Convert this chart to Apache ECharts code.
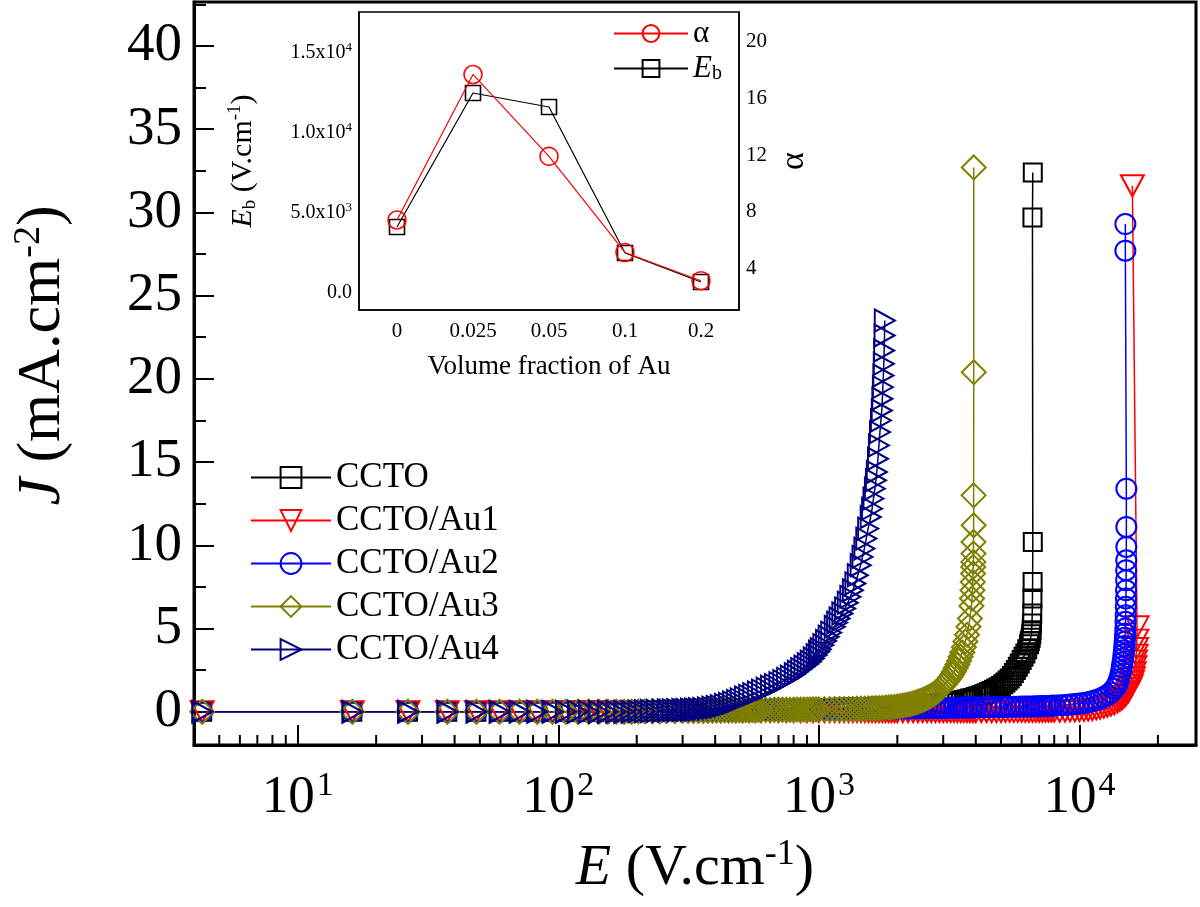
<!DOCTYPE html>
<html><head><meta charset="utf-8">
<script src="https://cdn.jsdelivr.net/npm/echarts@6/dist/echarts.min.js"></script>
<style>html,body{margin:0;padding:0;background:#fff;}#c{width:1200px;height:907px;}</style>
</head><body><div id="c"></div>
<script>
// ---------- DATA ----------
const seriesNames = ['CCTO', 'CCTO/Au1', 'CCTO/Au2', 'CCTO/Au3', 'CCTO/Au4'];
// low-field points shared by all samples (J ~ 0)
const eLow = [4.3, 16.2, 26.5, 37.5, 48.5, 59.5, 71, 83, 95, 107, 119, 131, 143, 155, 167, 179, 191];
const jLow = [0, 0, 0, 0, 0, 0, 0, 0, 0, 0, 0, 0, 0, 0, 0, 0, 0];
const cctoPts = [[203,0.02],[215,0.02],[230,0.03],[245,0.03],[260,0.04],[280,0.05],
[300,0.06],[315,0.06],[330,0.06],[345,0.07],[360,0.07],[375,0.07],[390,0.08],[405,0.08],[420,0.08],[435,0.09],[450,0.09],[465,0.1],[480,0.1],[495,0.1],[510,0.11],[525,0.11],[540,0.11],[555,0.12],[570,0.12],[585,0.13],
[600,0.14],[625,0.14],[650,0.14],[675,0.15],[700,0.15],[725,0.16],[750,0.16],[775,0.17],[800,0.17],[825,0.18],[850,0.18],[875,0.19],[900,0.19],[925,0.2],[950,0.2],[975,0.21],
[1000,0.22],[1050,0.22],[1100,0.23],[1150,0.23],[1200,0.24],[1250,0.24],[1300,0.25],[1350,0.25],[1400,0.26],[1450,0.26],[1500,0.27],[1550,0.27],[1600,0.28],[1650,0.29],[1700,0.3],[1750,0.31],[1800,0.32],[1850,0.32],[1900,0.33],[1950,0.34],
[2000,0.35],[2100,0.36],[2200,0.37],[2300,0.39],[2400,0.4],[2500,0.42],[2600,0.44],[2700,0.46],[2800,0.48],[2900,0.5],[3000,0.52],[3100,0.55],[3200,0.57],[3300,0.6],[3400,0.63],[3500,0.67],[3600,0.71],[3700,0.75],[3800,0.79],[3900,0.83],
[4000,0.88],[4100,0.93],[4200,0.99],[4300,1.05],[4400,1.11],[4500,1.18],[4600,1.25],[4700,1.32],[4800,1.4],[4900,1.47],[5000,1.55],[5100,1.65],[5200,1.76],[5300,1.88],[5400,2.0],[5500,2.15],[5600,2.32],[5700,2.5],[5800,2.7],[5900,2.9],[6000,3.1],[6100,3.3],[6200,3.5],[6300,3.75],[6400,4.05],
[6450,4.25],[6500,4.45],[6530,4.65],[6550,4.9],[6570,5.3],[6590,5.9],[6600,6.8],[6610,7.8],[6620,10.2],[6600,29.7],[6620,32.4]];
const au1Pts = [[203,0],[230,0],[260,0],[300,0],[330,0],[360,0],[390,0],[420,0.01],[450,0.01],[480,0.01],[510,0.01],[540,0.01],[570,0.01],
[600,0.01],[650,0.01],[700,0.01],[750,0.01],[800,0.01],[850,0.01],[900,0.01],[950,0.01],
[1000,0.01],[1050,0.01],[1100,0.01],[1150,0.01],[1200,0.01],[1250,0.01],[1300,0.01],[1350,0.01],[1400,0.01],[1450,0.01],[1500,0.01],[1550,0.01],[1600,0.01],[1650,0.01],[1700,0.01],[1750,0.01],[1800,0.01],[1850,0.01],[1900,0.01],[1950,0.01],
[2000,0.01],[2100,0.01],[2200,0.01],[2300,0.01],[2400,0.01],[2500,0.01],[2600,0.01],[2700,0.01],[2800,0.01],[2900,0.01],[3000,0.01],[3100,0.01],[3200,0.01],[3300,0.01],[3400,0.01],[3500,0.01],[3600,0.01],[3700,0.01],[3800,0.01],[3900,0.01],
[4000,0.01],[4200,0.01],[4400,0.01],[4600,0.01],[4800,0.01],[5000,0.01],[5200,0.02],[5400,0.02],[5600,0.02],[5800,0.02],[6000,0.02],[6200,0.02],[6400,0.02],[6600,0.02],[6800,0.02],[7000,0.02],[7200,0.02],[7400,0.03],[7600,0.03],[7800,0.03],
[8000,0.03],[8400,0.03],[8800,0.04],[9200,0.05],[9600,0.05],[10000,0.07],[10400,0.08],[10800,0.1],[11200,0.13],[11600,0.17],[12000,0.21],[12400,0.27],[12800,0.33],[13200,0.39],[13600,0.47],[14000,0.59],[14300,0.68],[14600,0.79],[14900,0.92],[15150,1.05],[15400,1.2],[15600,1.38],[15800,1.58],[15950,1.8],[16100,2.05],[16220,2.35],[16330,2.7],[16420,3.05],[16500,3.4],[16560,3.8],[16600,4.3],[16630,5.1],[15960,31.6]];
const au2Pts = [[203,0.02],[215,0.02],[230,0.03],[245,0.03],[260,0.04],[280,0.04],
[300,0.05],[315,0.05],[330,0.05],[345,0.06],[360,0.06],[375,0.06],[390,0.06],[405,0.07],[420,0.07],[435,0.07],[450,0.07],[465,0.08],[480,0.08],[495,0.08],[510,0.08],[525,0.09],[540,0.09],[555,0.09],[570,0.09],[585,0.1],
[600,0.1],[625,0.1],[650,0.1],[675,0.11],[700,0.11],[725,0.11],[750,0.11],[775,0.12],[800,0.12],[825,0.12],[850,0.12],[875,0.13],[900,0.13],[925,0.13],[950,0.13],[975,0.14],
[1000,0.14],[1050,0.14],[1100,0.14],[1150,0.15],[1200,0.15],[1250,0.15],[1300,0.15],[1350,0.16],[1400,0.16],[1450,0.16],[1500,0.16],[1550,0.17],[1600,0.17],[1650,0.17],[1700,0.17],[1750,0.18],[1800,0.18],[1850,0.18],[1900,0.19],[1950,0.19],
[2000,0.2],[2100,0.2],[2200,0.2],[2300,0.21],[2400,0.21],[2500,0.21],[2600,0.22],[2700,0.22],[2800,0.22],[2900,0.23],[3000,0.23],[3100,0.23],[3200,0.24],[3300,0.24],[3400,0.24],[3500,0.25],[3600,0.25],[3700,0.25],[3800,0.26],[3900,0.26],
[4000,0.27],[4200,0.27],[4400,0.28],[4600,0.28],[4800,0.28],[5000,0.29],[5200,0.29],[5400,0.3],[5600,0.3],[5800,0.3],[6000,0.31],[6200,0.31],[6400,0.32],[6600,0.32],[6800,0.33],[7000,0.33],[7200,0.34],[7400,0.35],[7600,0.35],[7800,0.36],
[8000,0.38],[8400,0.39],[8800,0.41],[9200,0.44],[9600,0.47],[10000,0.5],[10400,0.53],[10800,0.57],[11200,0.63],[11600,0.7],[12000,0.78],[12400,0.88],[12800,1.0],[13200,1.16],[13600,1.38],
[13850,1.55],[14050,1.75],[14200,1.95],[14350,2.2],[14450,2.45],[14550,2.7],[14620,2.95],[14700,3.2],[14760,3.45],[14820,3.7],[14870,3.95],[14910,4.2],[14950,4.45],[14980,4.7],[15000,5.0],[15020,5.4],[15040,5.8],[15060,6.3],[15080,6.8],[15090,7.3],[15100,7.9],[15110,8.5],[15120,9.1],[15130,9.9],[15130,11.1],[15130,13.4],[15000,27.7],[15000,29.3]];
const au3Pts = [[203,0.02],[215,0.02],[230,0.03],[245,0.03],[260,0.04],[280,0.04],
[300,0.05],[315,0.05],[330,0.05],[345,0.06],[360,0.06],[375,0.06],[390,0.07],[405,0.07],[420,0.07],[435,0.08],[450,0.08],[465,0.08],[480,0.09],[495,0.09],[510,0.09],[525,0.1],[540,0.1],[555,0.1],[570,0.1],[585,0.11],
[600,0.11],[625,0.11],[650,0.11],[675,0.12],[700,0.12],[725,0.12],[750,0.12],[775,0.12],[800,0.13],[825,0.13],[850,0.13],[875,0.13],[900,0.13],[925,0.14],[950,0.14],[975,0.14],
[1000,0.14],[1050,0.15],[1100,0.15],[1150,0.15],[1200,0.16],[1250,0.16],[1300,0.16],[1350,0.17],[1400,0.18],[1450,0.18],[1500,0.19],[1550,0.2],[1600,0.2],[1650,0.21],[1700,0.22],[1750,0.23],[1800,0.25],[1850,0.26],[1900,0.27],[1950,0.29],
[2000,0.32],[2050,0.34],[2100,0.37],[2150,0.4],[2200,0.43],[2250,0.46],[2300,0.5],[2350,0.55],[2400,0.6],[2450,0.65],[2500,0.7],[2550,0.76],[2600,0.83],[2650,0.89],[2700,0.97],[2750,1.05],[2800,1.14],[2850,1.23],[2900,1.33],[2950,1.44],
[3000,1.55],[3050,1.67],[3100,1.8],[3150,1.94],[3200,2.08],[3250,2.24],[3300,2.42],[3350,2.62],[3400,2.82],[3450,3.05],[3500,3.3],[3550,3.57],[3600,3.87],[3650,4.22],[3700,4.62],[3750,5.1],[3800,5.6],[3850,6.35],
[3870,6.8],[3885,7.3],[3895,7.8],[3905,8.3],[3910,8.7],[3915,9.0],[3920,9.5],[3920,10.2],[3925,11.2],[3925,13.0],[3930,20.4],[3930,32.7]];
const au4Pts = [[203,0.02],[215,0.03],[227,0.04],[239,0.05],[251,0.06],[263,0.07],[275,0.08],[287,0.09],[299,0.1],[311,0.11],[323,0.12],[335,0.13],[347,0.15],[360,0.17],[375,0.2],[390,0.24],[405,0.28],[420,0.33],[436,0.4],[452,0.47],[468,0.55],[485,0.64],[501,0.74],[520,0.85],[540,0.95],[560,1.05],[583,1.16],[605,1.27],[630,1.38],[655,1.5],[678,1.6],[705,1.72],[730,1.84],[755,1.97],[780,2.1],[808,2.25],[830,2.4],[855,2.55],[880,2.7],[906,2.85],[930,3.0],[955,3.2],[980,3.4],[1000,3.6],[1016,3.75],[1040,4.0],[1065,4.25],[1090,4.5],[1115,4.75],[1150,5.1],[1175,5.35],[1200,5.6],[1230,5.9],[1260,6.2],[1290,6.55],[1320,6.9],[1350,7.3],[1380,7.7],[1410,8.2],[1446,8.8],[1470,9.3],[1495,9.8],[1520,10.4],[1545,11.0],[1580,11.7],[1600,12.2],[1620,12.8],[1640,13.4],[1655,13.9],[1668,14.4],[1685,15.2],[1700,16.0],[1715,16.8],[1730,17.5],[1743,18.1],[1752,18.8],[1760,19.5],[1768,20.2],[1774,20.9],[1780,21.7],[1786,22.6],[1790,23.5]];
const xTickValues = [10, 100, 1000, 10000];
const xTickExp = ['1', '2', '3', '4'];
const yTickValues = [0, 5, 10, 15, 20, 25, 30, 35, 40];

// inset
const fracCats = ['0', '0.025', '0.05', '0.1', '0.2'];
const ebValues = [4125, 12500, 11625, 2500, 690];
const alphaValues = [7.4, 17.7, 11.9, 5.1, 3.1];
const ebTickValues = [0, 5000, 10000, 15000];
const ebTickMant = ['0.0', '5.0x10', '1.0x10', '1.5x10'];
const ebTickExp = ['', '3', '4', '4'];
const alphaTickValues = [4, 8, 12, 16, 20];

// ---------- CHART ----------
const FONT = 'Liberation Serif';
const chart = echarts.init(document.getElementById('c'), null, {renderer: 'canvas'});
const full = pts => eLow.map((e, i) => [e, jLow[i]]).concat(pts);

function mainSeries(name, pts, color, symbol, size, rotate) {
  return {
    type: 'line', name: name, data: full(pts), xAxisIndex: 0, yAxisIndex: 0,
    symbol: symbol, symbolSize: size, symbolRotate: rotate || 0,
    showSymbol: true, showAllSymbol: true,
    lineStyle: {color: color, width: 1.5},
    itemStyle: {color: 'rgba(0,0,0,0)', borderColor: color, borderWidth: 2},
    emphasis: {disabled: true}, animation: false
  };
}
// minor ticks of the log axis (2..9 x 10^k)
const xMinor = [];
for (let k = 0; k <= 4; k++) for (let m = 2; m <= 9; m++) {
  const v = m * Math.pow(10, k);
  if (v > 4 && v < 28000) xMinor.push(v);
}
const axisFont = {fontFamily: FONT, color: '#000'};

const option = {
  backgroundColor: '#fff',
  animation: false,
  grid: [
    {left: 194, right: 4, top: 2, bottom: 162, show: true, borderColor: '#000', borderWidth: 3, backgroundColor: 'transparent'},
    {left: 359, right: 461, top: 12, bottom: 597, show: true, borderColor: '#000', borderWidth: 1.5, backgroundColor: '#fff'}
  ],
  xAxis: [
    {type: 'log', gridIndex: 0, position: 'bottom', min: 4, max: 28000, logBase: 10,
      axisLine: {onZero: false, lineStyle: {color: '#000', width: 3}},
      axisTick: {inside: true, length: 20, lineStyle: {color: '#000', width: 2}},
      splitLine: {show: false}, minorTick: {show: false},
      axisLabel: {margin: 24, showMinLabel: false, showMaxLabel: false,
        formatter: v => {
          const k = xTickValues.findIndex(t => Math.abs(t - v) / t < 1e-6);
          return k < 0 ? '' : '{b|10}{s|' + xTickExp[k] + '}';
        },
        rich: {
          b: {fontFamily: FONT, fontSize: 53, lineHeight: 58, color: '#000'},
          s: {fontFamily: FONT, fontSize: 34, color: '#000', verticalAlign: 'top', padding: [0, 0, 0, 2]}
        }},
      name: '{i|E} (V.cm{s|-1})', nameLocation: 'middle', nameGap: 92,
      nameTextStyle: {fontFamily: FONT, fontSize: 58, color: '#000', lineHeight: 64,
        rich: {i: {fontFamily: FONT, fontSize: 58, lineHeight: 64, fontStyle: 'italic', color: '#000'},
               s: {fontFamily: FONT, fontSize: 36, color: '#000', verticalAlign: 'top'}}}
    },
    {type: 'category', gridIndex: 1, position: 'bottom', data: fracCats, boundaryGap: true,
      axisLine: {onZero: false, lineStyle: {color: '#000', width: 1.5}},
      axisTick: {inside: true, alignWithLabel: true, length: 9, lineStyle: {color: '#000', width: 1.5}},
      axisLabel: Object.assign({fontSize: 21, margin: 11}, axisFont),
      name: 'Volume fraction of Au', nameLocation: 'middle', nameGap: 43,
      nameTextStyle: {fontFamily: FONT, fontSize: 27, color: '#000'}
    },
    {type: 'category', gridIndex: 1, position: 'bottom', data: fracCats, boundaryGap: true,
      axisLine: {show: false, onZero: false},
      axisTick: {inside: true, length: 5, lineStyle: {color: '#000', width: 1.5}},
      axisLabel: {show: false}
    }
  ],
  yAxis: [
    {type: 'value', gridIndex: 0, position: 'left', min: -2, max: 42.64, minInterval: 5, maxInterval: 5,
      axisLine: {show: true, onZero: false, lineStyle: {color: '#000', width: 3}},
      axisTick: {inside: true, length: 20, lineStyle: {color: '#000', width: 2}},
      splitLine: {show: false},
      axisLabel: Object.assign({fontSize: 55, margin: 12, showMinLabel: false, showMaxLabel: false,
        formatter: v => (yTickValues.indexOf(v) >= 0 ? String(v) : '')}, axisFont),
      name: '{i|J} (mA.cm{s|-2})', nameLocation: 'middle', nameGap: 118,
      nameTextStyle: {fontFamily: FONT, fontSize: 62, color: '#000', lineHeight: 66, padding: [0, 0, 0, 36],
        rich: {i: {fontFamily: FONT, fontSize: 62, lineHeight: 66, fontStyle: 'italic', color: '#000'},
               s: {fontFamily: FONT, fontSize: 38, color: '#000', verticalAlign: 'top'}}}
    },
    {type: 'value', gridIndex: 0, position: 'left', min: -2, max: 42.64, minInterval: 2.5, maxInterval: 2.5,
      axisLine: {show: false}, splitLine: {show: false}, axisLabel: {show: false},
      axisTick: {inside: true, length: 12, lineStyle: {color: '#000', width: 2}}
    },
    {type: 'value', gridIndex: 1, position: 'left', min: -1062, max: 17562, minInterval: 5000, maxInterval: 5000,
      axisLine: {show: true, onZero: false, lineStyle: {color: '#000', width: 1.5}},
      axisTick: {inside: true, length: 8, lineStyle: {color: '#000', width: 1.5}},
      splitLine: {show: false},
      axisLabel: Object.assign({fontSize: 20, margin: 7, showMinLabel: false, showMaxLabel: false,
        formatter: v => {
          const k = ebTickValues.indexOf(v);
          if (k < 0) return '';
          return '{m|' + ebTickMant[k] + '}' + (ebTickExp[k] ? '{s|' + ebTickExp[k] + '}' : '');
        },
        rich: {m: {fontFamily: FONT, fontSize: 20, lineHeight: 24, color: '#000'},
               s: {fontFamily: FONT, fontSize: 13, color: '#000', verticalAlign: 'top'}}}, axisFont),
      name: '{i|E}{sub|b} (V.cm{s|-1})', nameLocation: 'middle', nameGap: 99,
      nameTextStyle: {fontFamily: FONT, fontSize: 30, color: '#000', lineHeight: 34,
        rich: {i: {fontFamily: FONT, fontSize: 30, lineHeight: 34, fontStyle: 'italic', color: '#000'},
               sub: {fontFamily: FONT, fontSize: 19, color: '#000', verticalAlign: 'bottom'},
               s: {fontFamily: FONT, fontSize: 19, color: '#000', verticalAlign: 'top'}}}
    },
    {type: 'value', gridIndex: 1, position: 'right', min: 1.03, max: 22.12, minInterval: 4, maxInterval: 4,
      axisLine: {show: true, onZero: false, lineStyle: {color: '#000', width: 1.5}},
      axisTick: {inside: true, length: 8, lineStyle: {color: '#000', width: 1.5}},
      splitLine: {show: false},
      axisLabel: Object.assign({fontSize: 21, margin: 7, showMinLabel: false, showMaxLabel: false,
        formatter: v => (alphaTickValues.indexOf(v) >= 0 ? String(v) : '')}, axisFont),
      name: 'α', nameLocation: 'middle', nameGap: 38, nameRotate: 90,
      nameTextStyle: {fontFamily: FONT, fontSize: 34, color: '#000'}
    },
    {type: 'value', gridIndex: 1, position: 'left', min: -1062, max: 17562, minInterval: 2500, maxInterval: 2500,
      axisLine: {show: false}, splitLine: {show: false}, axisLabel: {show: false},
      axisTick: {inside: true, length: 5, lineStyle: {color: '#000', width: 1.5}}
    },
    {type: 'value', gridIndex: 1, position: 'right', min: 1.03, max: 22.12, minInterval: 2, maxInterval: 2,
      axisLine: {show: false}, splitLine: {show: false}, axisLabel: {show: false},
      axisTick: {inside: true, length: 5, lineStyle: {color: '#000', width: 1.5}}
    }
  ],
  legend: [
    {data: seriesNames, orient: 'vertical', left: 250, top: 460, padding: 0, itemWidth: 80, itemHeight: 26, itemGap: 8,
      textStyle: {fontFamily: FONT, fontSize: 35, color: '#000'}, selectedMode: false},
    {data: ['α', 'Eb'], orient: 'vertical', left: 613, top: 18, padding: 0, itemWidth: 74, itemHeight: 21, itemGap: 4,
      selectedMode: false,
      formatter: n => (n === 'Eb' ? '{i|E}{sub|b}' : 'α'),
      textStyle: {fontFamily: FONT, fontSize: 31, color: '#000',
        rich: {i: {fontFamily: FONT, fontSize: 31, fontStyle: 'italic', color: '#000'},
               sub: {fontFamily: FONT, fontSize: 20, color: '#000', verticalAlign: 'bottom'}}}}
  ],
  series: [
    mainSeries('CCTO', cctoPts, '#000000', 'rect', 18, 0),
    mainSeries('CCTO/Au1', au1Pts, '#ff0000', 'triangle', [23, 21], 180),
    mainSeries('CCTO/Au2', au2Pts, '#0000ff', 'circle', 20, 0),
    mainSeries('CCTO/Au3', au3Pts, '#808000', 'diamond', 24, 0),
    mainSeries('CCTO/Au4', au4Pts, '#000080', 'triangle', [22, 20], -90),
    {type: 'custom', xAxisIndex: 0, yAxisIndex: 0, silent: true, clip: false, z: 5,
      data: xMinor.map(v => [v, -2]),
      renderItem: (params, api) => {
        const p = api.coord([api.value(0), api.value(1)]);
        return {type: 'line', shape: {x1: p[0], y1: p[1], x2: p[0], y2: p[1] - 10},
          style: {stroke: '#000', lineWidth: 2}};
      }},
    {type: 'line', name: 'Eb', xAxisIndex: 1, yAxisIndex: 2, data: ebValues,
      symbol: 'rect', symbolSize: 15, showAllSymbol: true,
      lineStyle: {color: '#000', width: 1.2},
      itemStyle: {color: 'rgba(0,0,0,0)', borderColor: '#000', borderWidth: 1.6}, z: 3},
    {type: 'line', name: 'α', xAxisIndex: 1, yAxisIndex: 3, data: alphaValues,
      symbol: 'circle', symbolSize: 18, showAllSymbol: true,
      lineStyle: {color: '#ff0000', width: 1.2},
      itemStyle: {color: 'rgba(0,0,0,0)', borderColor: '#ff0000', borderWidth: 1.6}, z: 4}
  ]
};
chart.setOption(option);
</script>
</body></html>
